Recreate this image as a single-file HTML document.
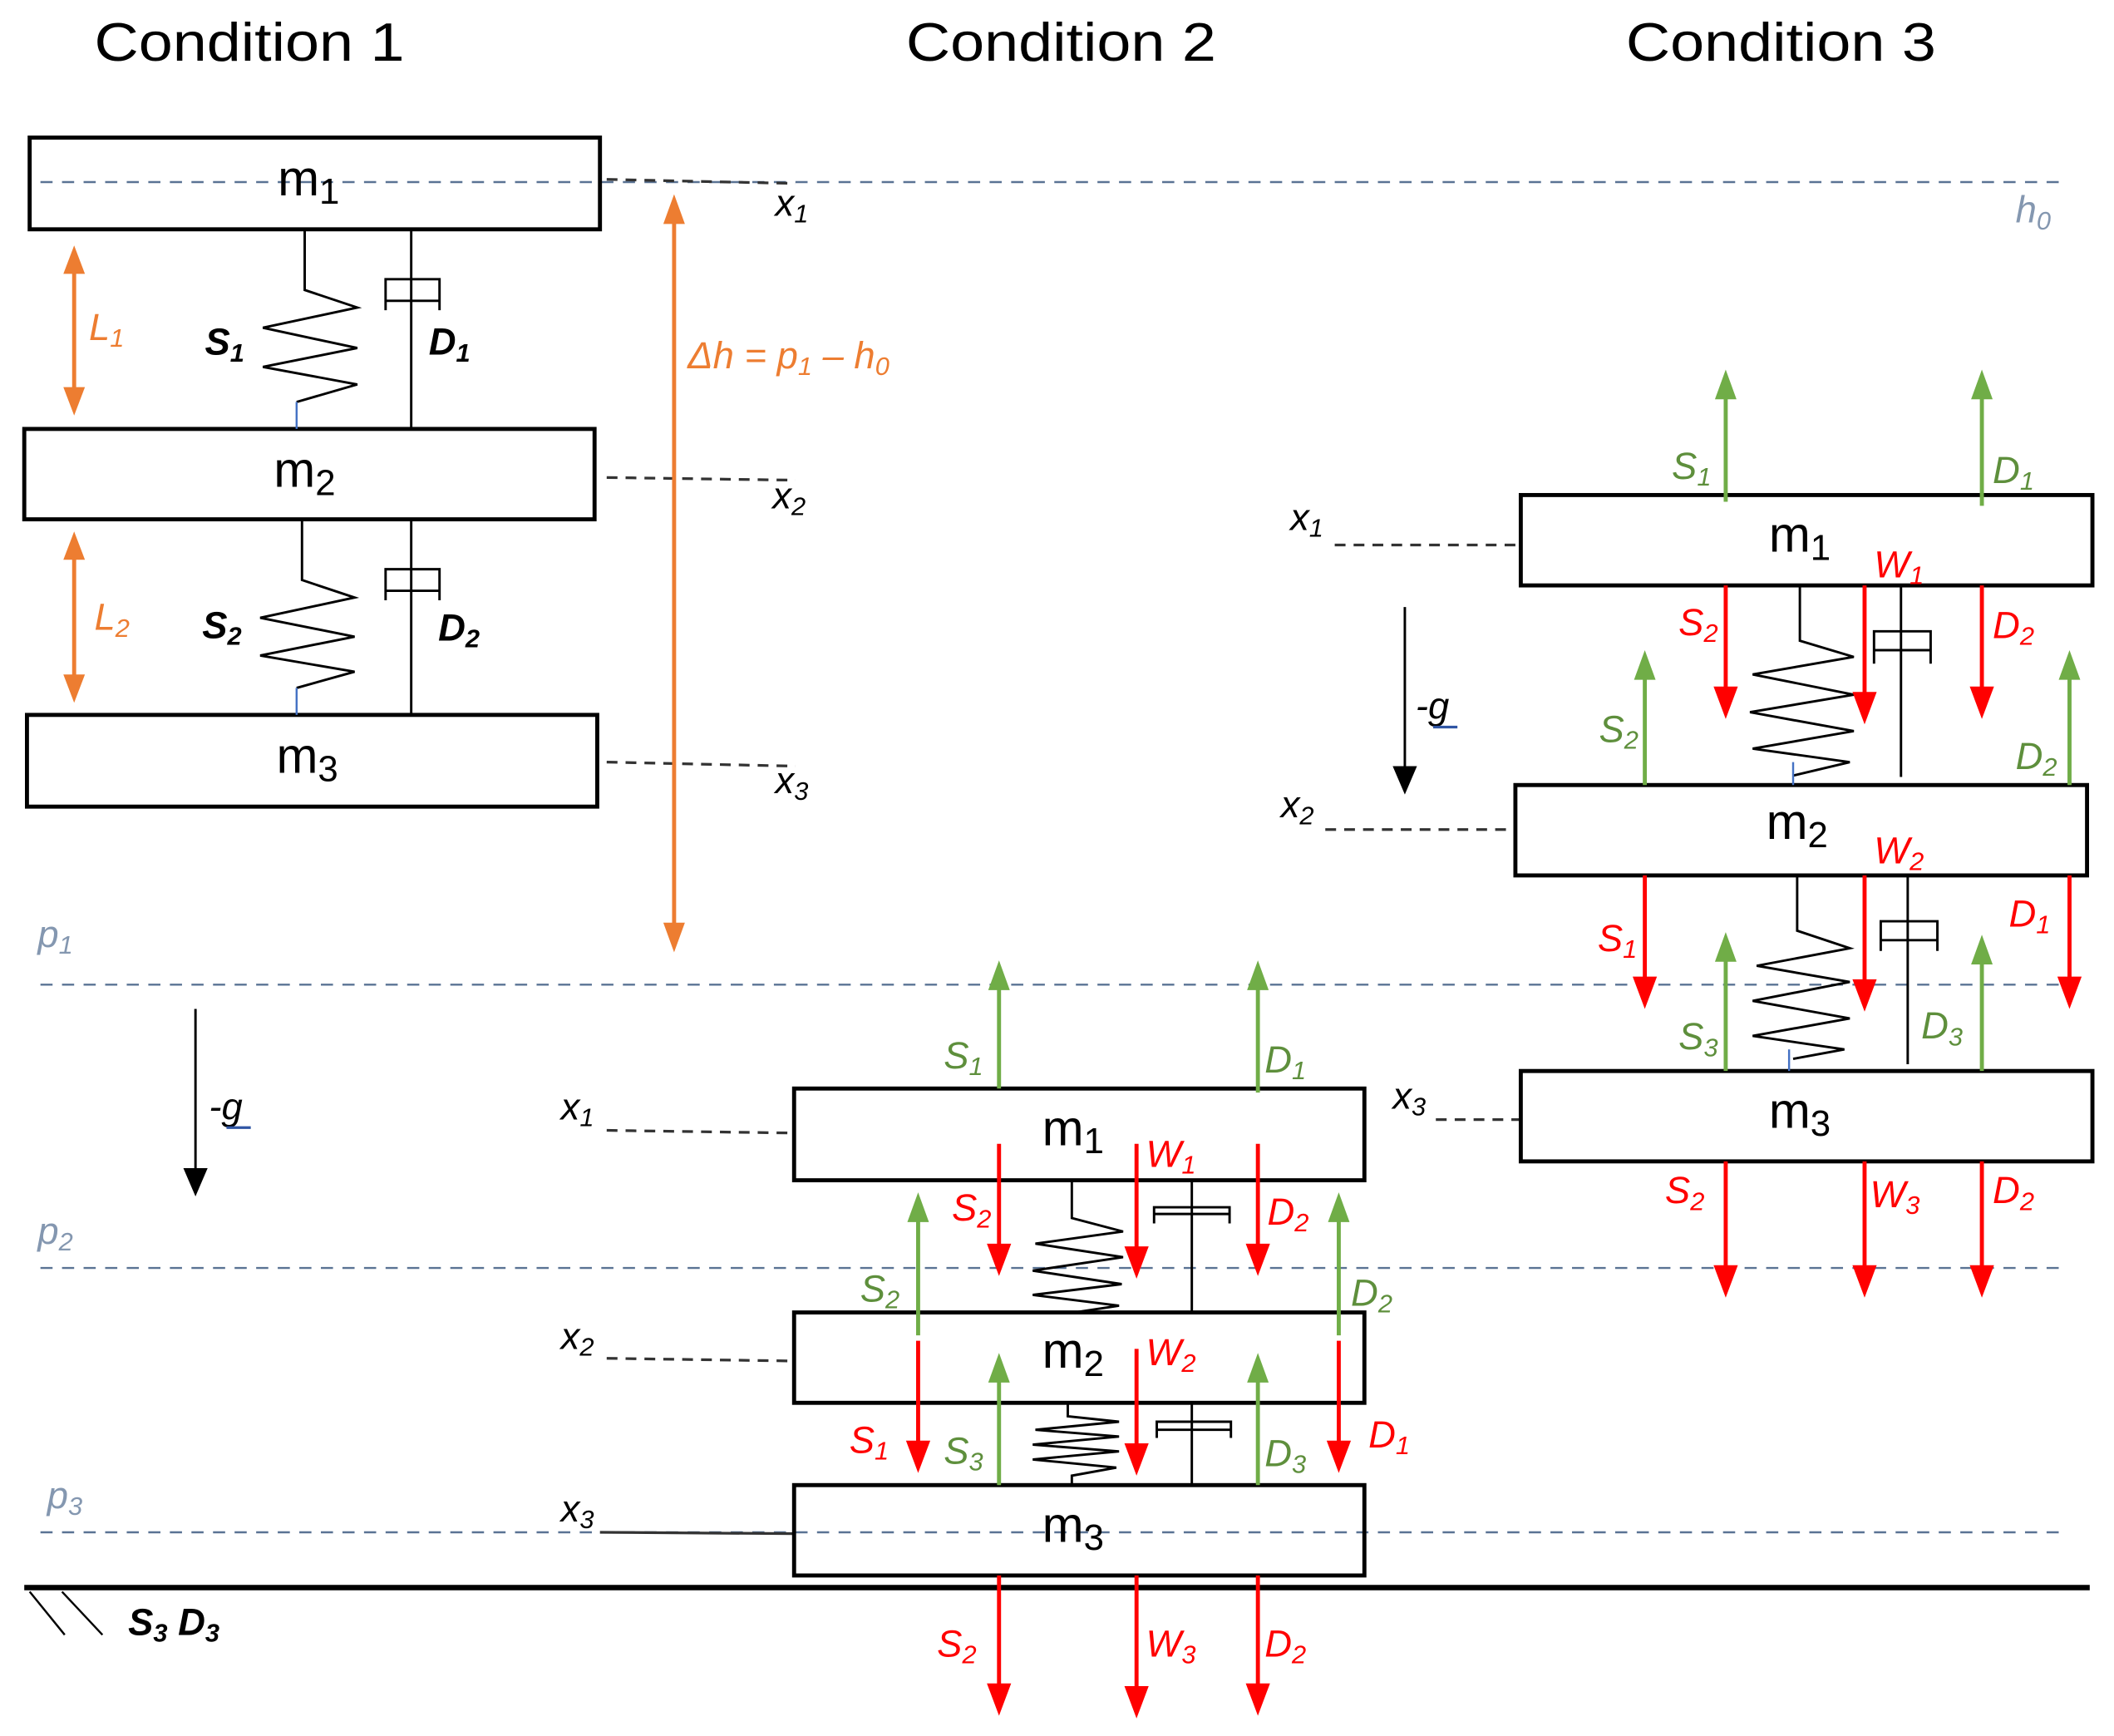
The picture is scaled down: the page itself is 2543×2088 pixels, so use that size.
<!DOCTYPE html>
<html><head><meta charset="utf-8">
<style>
html,body{margin:0;padding:0;background:#fff;}
svg{display:block;}
text{font-family:"Liberation Sans",sans-serif;}
.t{font-size:40px;}
.m{font-size:37px;}
.i{font-style:italic;font-size:28px;}
.b{font-weight:bold;}
.s{font-size:19px;}
.gl{fill:#5E8F3C;}
.r{fill:#FF0000;}
.o{fill:#ED7D31;}
.p{fill:#8497B0;}
.G{fill:#70AD47;} .R{fill:#FF0000;} .O{fill:#ED7D31;}
</style></head>
<body>
<svg width="2543" height="2088" viewBox="0 0 1568 1287" preserveAspectRatio="none" xmlns="http://www.w3.org/2000/svg">
<rect width="1568" height="1287" fill="#fff"/>

<text class="t" x="70" y="45" textLength="230" lengthAdjust="spacingAndGlyphs">Condition 1</text>
<text class="t" x="672" y="45" textLength="230" lengthAdjust="spacingAndGlyphs">Condition 2</text>
<text class="t" x="1206" y="45" textLength="230" lengthAdjust="spacingAndGlyphs">Condition 3</text>

<g stroke="#5A7394" stroke-width="1.5" stroke-dasharray="9,7" fill="none">
<line x1="30" y1="135" x2="1530" y2="135"/>
<line x1="30" y1="730" x2="1530" y2="730"/>
<line x1="30" y1="940" x2="1530" y2="940"/>
<line x1="30" y1="1136" x2="1530" y2="1136"/>
</g>
<text class="i p" x="1495" y="165">h<tspan class="s" dy="5">0</tspan></text>
<text class="i p" x="28" y="702">p<tspan class="s" dy="5">1</tspan></text>
<text class="i p" x="28" y="922">p<tspan class="s" dy="5">2</tspan></text>
<text class="i p" x="35" y="1118">p<tspan class="s" dy="5">3</tspan></text>

<line x1="18" y1="1177" x2="1550" y2="1177" stroke="#000" stroke-width="4"/>
<line x1="22" y1="1180" x2="48" y2="1212" stroke="#000" stroke-width="1.5"/>
<line x1="46" y1="1180" x2="76" y2="1212" stroke="#000" stroke-width="1.5"/>
<text class="i b" x="95" y="1212">S<tspan class="s" dy="5">3</tspan><tspan dy="-5"> D</tspan><tspan class="s" dy="5">3</tspan></text>

<g stroke="#333" stroke-width="2" stroke-dasharray="8,6" fill="none">
<line x1="450" y1="133" x2="590" y2="136"/>
<line x1="450" y1="354" x2="590" y2="356"/>
<line x1="450" y1="565" x2="590" y2="568"/>
<line x1="450" y1="838" x2="589" y2="840"/>
<line x1="450" y1="1007" x2="589" y2="1009"/>
<line x1="990" y1="404" x2="1128" y2="404"/>
<line x1="983" y1="615" x2="1124" y2="615"/>
<line x1="1065" y1="830" x2="1128" y2="830"/>
</g>
<line x1="445" y1="1136" x2="589" y2="1137" stroke="#333" stroke-width="2"/>
<text class="i" x="575" y="160">x<tspan class="s" dy="5">1</tspan></text>
<text class="i" x="573" y="377">x<tspan class="s" dy="5">2</tspan></text>
<text class="i" x="575" y="588">x<tspan class="s" dy="5">3</tspan></text>
<text class="i" x="416" y="830">x<tspan class="s" dy="5">1</tspan></text>
<text class="i" x="416" y="1000">x<tspan class="s" dy="5">2</tspan></text>
<text class="i" x="416" y="1128">x<tspan class="s" dy="5">3</tspan></text>
<text class="i" x="957" y="393">x<tspan class="s" dy="5">1</tspan></text>
<text class="i" x="950" y="606">x<tspan class="s" dy="5">2</tspan></text>
<text class="i" x="1033" y="822">x<tspan class="s" dy="5">3</tspan></text>

<g fill="#fff" stroke="#000" stroke-width="3">
<rect x="22" y="102" width="423" height="68" fill="none"/>
<rect x="18" y="318" width="423" height="67"/>
<rect x="20" y="530" width="423" height="68"/>
<rect x="589" y="807" width="423" height="68"/>
<rect x="589" y="973" width="423" height="67"/>
<rect x="589" y="1101" width="423" height="67" fill="none"/>
<rect x="1128" y="367" width="424" height="67"/>
<rect x="1124" y="582" width="424" height="67"/>
<rect x="1128" y="794" width="424" height="67"/>
</g>
<text class="m" x="206" y="145">m<tspan font-size="27" dy="6">1</tspan></text>
<text class="m" x="203" y="361">m<tspan font-size="27" dy="6">2</tspan></text>
<text class="m" x="205" y="573">m<tspan font-size="27" dy="6">3</tspan></text>
<text class="m" x="773" y="849">m<tspan font-size="27" dy="6">1</tspan></text>
<text class="m" x="773" y="1014">m<tspan font-size="27" dy="6">2</tspan></text>
<text class="m" x="773" y="1143">m<tspan font-size="27" dy="6">3</tspan></text>
<text class="m" x="1312" y="409">m<tspan font-size="27" dy="6">1</tspan></text>
<text class="m" x="1310" y="622">m<tspan font-size="27" dy="6">2</tspan></text>
<text class="m" x="1312" y="836">m<tspan font-size="27" dy="6">3</tspan></text>

<g stroke="#000" stroke-width="1.8" fill="none">
<polyline points="226,170 226,215 265,228 195,243 265,258 195,272 265,285 220,298"/>
<polyline points="224,385 224,430 263,443 193,458 263,472 193,486 263,498 220,510"/>
<line x1="305" y1="170" x2="305" y2="318"/>
<path d="M286,230 V207 H326 V230 M286,223 H326"/>
<line x1="305" y1="385" x2="305" y2="530"/>
<path d="M286,445 V422 H326 V445 M286,438 H326"/>
<polyline points="795,875 795,903 833,913 768,922 833,932 766,942 832,952 766,960 830,968 797,973"/>
<line x1="884" y1="875" x2="884" y2="973"/>
<path d="M856,907 V895 H912 V907 M856,900 H912"/>
<polyline points="792,1040 792,1050 830,1054 768,1060 830,1065 766,1071 830,1076 766,1082 828,1088 795,1094 795,1101"/>
<line x1="884" y1="1040" x2="884" y2="1101"/>
<path d="M858,1066 V1054 H913 V1066 M858,1060 H913"/>
<polyline points="1335,434 1335,475 1375,487 1300,500 1375,515 1298,528 1375,542 1300,555 1372,565 1330,575"/>
<line x1="1410" y1="434" x2="1410" y2="576"/>
<path d="M1390,492 V468 H1432 V492 M1390,482 H1432"/>
<polyline points="1333,649 1333,690 1372,703 1303,716 1372,728 1300,742 1372,755 1300,768 1368,778 1330,785"/>
<line x1="1415" y1="649" x2="1415" y2="789"/>
<path d="M1395,705 V683 H1437 V705 M1395,697 H1437"/>
</g>
<g stroke="#4472C4" stroke-width="1.5">
<line x1="220" y1="298" x2="220" y2="318"/>
<line x1="220" y1="510" x2="220" y2="530"/>
<line x1="1330" y1="565" x2="1330" y2="582"/>
<line x1="1327" y1="778" x2="1327" y2="794"/>
</g>
<text class="i b" x="152" y="263">S<tspan class="s" dy="5">1</tspan></text>
<text class="i b" x="318" y="263">D<tspan class="s" dy="5">1</tspan></text>
<text class="i b" x="150" y="473">S<tspan class="s" dy="5">2</tspan></text>
<text class="i b" x="325" y="475">D<tspan class="s" dy="5">2</tspan></text>

<!-- orange double arrows -->
<g stroke="#ED7D31" stroke-width="3">
<line x1="55" y1="200" x2="55" y2="290"/>
<line x1="55" y1="412" x2="55" y2="503"/>
<line x1="500" y1="162" x2="500" y2="688"/>
</g>
<polygon class="O" points="55,182 47,203 63,203"/><polygon class="O" points="55,308 47,287 63,287"/>
<polygon class="O" points="55,394 47,415 63,415"/><polygon class="O" points="55,521 47,500 63,500"/>
<polygon class="O" points="500,144 492,166 508,166"/><polygon class="O" points="500,706 492,684 508,684"/>
<text class="i o" x="66" y="252">L<tspan class="s" dy="5">1</tspan></text>
<text class="i o" x="70" y="467">L<tspan class="s" dy="5">2</tspan></text>
<text class="i o" x="510" y="273" font-size="30">Δh = p<tspan class="s" dy="5">1</tspan><tspan dy="-5"> – h</tspan><tspan class="s" dy="5">0</tspan></text>

<!-- gravity -->
<g stroke="#000" stroke-width="1.8">
<line x1="145" y1="748" x2="145" y2="868"/>
<line x1="1042" y1="450" x2="1042" y2="570"/>
</g>
<polygon points="145,887 136,866 154,866" fill="#000"/>
<polygon points="1042,589 1033,568 1051,568" fill="#000"/>
<text class="i" x="155" y="830">-g</text><line x1="168" y1="836" x2="186" y2="836" stroke="#2F55A4" stroke-width="2"/>
<text class="i" x="1050" y="533">-g</text><line x1="1063" y1="539" x2="1081" y2="539" stroke="#2F55A4" stroke-width="2"/>

<!-- green arrows: line + up head -->
<g stroke="#70AD47" stroke-width="3">
<line x1="741" y1="807" x2="741" y2="730"/>
<line x1="933" y1="810" x2="933" y2="730"/>
<line x1="681" y1="990" x2="681" y2="902"/>
<line x1="993" y1="990" x2="993" y2="902"/>
<line x1="741" y1="1101" x2="741" y2="1021"/>
<line x1="933" y1="1101" x2="933" y2="1021"/>
<line x1="1280" y1="372" x2="1280" y2="292"/>
<line x1="1470" y1="375" x2="1470" y2="292"/>
<line x1="1220" y1="582" x2="1220" y2="500"/>
<line x1="1535" y1="582" x2="1535" y2="500"/>
<line x1="1280" y1="794" x2="1280" y2="709"/>
<line x1="1470" y1="794" x2="1470" y2="711"/>
</g>
<g class="G">
<polygon points="741,712 733,734 749,734"/>
<polygon points="933,712 925,734 941,734"/>
<polygon points="681,884 673,906 689,906"/>
<polygon points="993,884 985,906 1001,906"/>
<polygon points="741,1003 733,1025 749,1025"/>
<polygon points="933,1003 925,1025 941,1025"/>
<polygon points="1280,274 1272,296 1288,296"/>
<polygon points="1470,274 1462,296 1478,296"/>
<polygon points="1220,482 1212,504 1228,504"/>
<polygon points="1535,482 1527,504 1543,504"/>
<polygon points="1280,691 1272,713 1288,713"/>
<polygon points="1470,693 1462,715 1478,715"/>
</g>

<!-- red arrows -->
<g stroke="#FF0000" stroke-width="3">
<line x1="741" y1="848" x2="741" y2="928"/>
<line x1="843" y1="848" x2="843" y2="930"/>
<line x1="933" y1="848" x2="933" y2="928"/>
<line x1="681" y1="994" x2="681" y2="1074"/>
<line x1="843" y1="1000" x2="843" y2="1076"/>
<line x1="993" y1="994" x2="993" y2="1074"/>
<line x1="741" y1="1168" x2="741" y2="1254"/>
<line x1="843" y1="1168" x2="843" y2="1256"/>
<line x1="933" y1="1168" x2="933" y2="1254"/>
<line x1="1280" y1="434" x2="1280" y2="515"/>
<line x1="1383" y1="434" x2="1383" y2="519"/>
<line x1="1470" y1="434" x2="1470" y2="515"/>
<line x1="1220" y1="649" x2="1220" y2="730"/>
<line x1="1383" y1="649" x2="1383" y2="732"/>
<line x1="1535" y1="649" x2="1535" y2="730"/>
<line x1="1280" y1="861" x2="1280" y2="944"/>
<line x1="1383" y1="861" x2="1383" y2="944"/>
<line x1="1470" y1="861" x2="1470" y2="944"/>
</g>
<g class="R">
<polygon points="741,946 732,922 750,922"/>
<polygon points="843,948 834,924 852,924"/>
<polygon points="933,946 924,922 942,922"/>
<polygon points="681,1092 672,1068 690,1068"/>
<polygon points="843,1094 834,1070 852,1070"/>
<polygon points="993,1092 984,1068 1002,1068"/>
<polygon points="741,1272 732,1248 750,1248"/>
<polygon points="843,1274 834,1250 852,1250"/>
<polygon points="933,1272 924,1248 942,1248"/>
<polygon points="1280,533 1271,509 1289,509"/>
<polygon points="1383,537 1374,513 1392,513"/>
<polygon points="1470,533 1461,509 1479,509"/>
<polygon points="1220,748 1211,724 1229,724"/>
<polygon points="1383,750 1374,726 1392,726"/>
<polygon points="1535,748 1526,724 1544,724"/>
<polygon points="1280,962 1271,938 1289,938"/>
<polygon points="1383,962 1374,938 1392,938"/>
<polygon points="1470,962 1461,938 1479,938"/>
</g>

<text class="i gl" x="700" y="792">S<tspan class="s" dy="5">1</tspan></text>
<text class="i gl" x="938" y="795">D<tspan class="s" dy="5">1</tspan></text>
<text class="i r" x="706" y="905">S<tspan class="s" dy="5">2</tspan></text>
<text class="i r" x="850" y="865">W<tspan class="s" dy="5">1</tspan></text>
<text class="i r" x="940" y="908">D<tspan class="s" dy="5">2</tspan></text>
<text class="i gl" x="638" y="965">S<tspan class="s" dy="5">2</tspan></text>
<text class="i gl" x="1002" y="968">D<tspan class="s" dy="5">2</tspan></text>
<text class="i r" x="630" y="1077">S<tspan class="s" dy="5">1</tspan></text>
<text class="i r" x="850" y="1012">W<tspan class="s" dy="5">2</tspan></text>
<text class="i r" x="1015" y="1073">D<tspan class="s" dy="5">1</tspan></text>
<text class="i gl" x="700" y="1085">S<tspan class="s" dy="5">3</tspan></text>
<text class="i gl" x="938" y="1087">D<tspan class="s" dy="5">3</tspan></text>
<text class="i r" x="695" y="1228">S<tspan class="s" dy="5">2</tspan></text>
<text class="i r" x="850" y="1228">W<tspan class="s" dy="5">3</tspan></text>
<text class="i r" x="938" y="1228">D<tspan class="s" dy="5">2</tspan></text>

<text class="i gl" x="1240" y="355">S<tspan class="s" dy="5">1</tspan></text>
<text class="i gl" x="1478" y="358">D<tspan class="s" dy="5">1</tspan></text>
<text class="i r" x="1245" y="471">S<tspan class="s" dy="5">2</tspan></text>
<text class="i r" x="1390" y="428">W<tspan class="s" dy="5">1</tspan></text>
<text class="i r" x="1478" y="473">D<tspan class="s" dy="5">2</tspan></text>
<text class="i gl" x="1186" y="550">S<tspan class="s" dy="5">2</tspan></text>
<text class="i gl" x="1495" y="570">D<tspan class="s" dy="5">2</tspan></text>
<text class="i r" x="1185" y="705">S<tspan class="s" dy="5">1</tspan></text>
<text class="i r" x="1390" y="640">W<tspan class="s" dy="5">2</tspan></text>
<text class="i r" x="1490" y="687">D<tspan class="s" dy="5">1</tspan></text>
<text class="i gl" x="1245" y="778">S<tspan class="s" dy="5">3</tspan></text>
<text class="i gl" x="1425" y="770">D<tspan class="s" dy="5">3</tspan></text>
<text class="i r" x="1235" y="892">S<tspan class="s" dy="5">2</tspan></text>
<text class="i r" x="1387" y="895">W<tspan class="s" dy="5">3</tspan></text>
<text class="i r" x="1478" y="892">D<tspan class="s" dy="5">2</tspan></text>
</svg>
</body></html>
